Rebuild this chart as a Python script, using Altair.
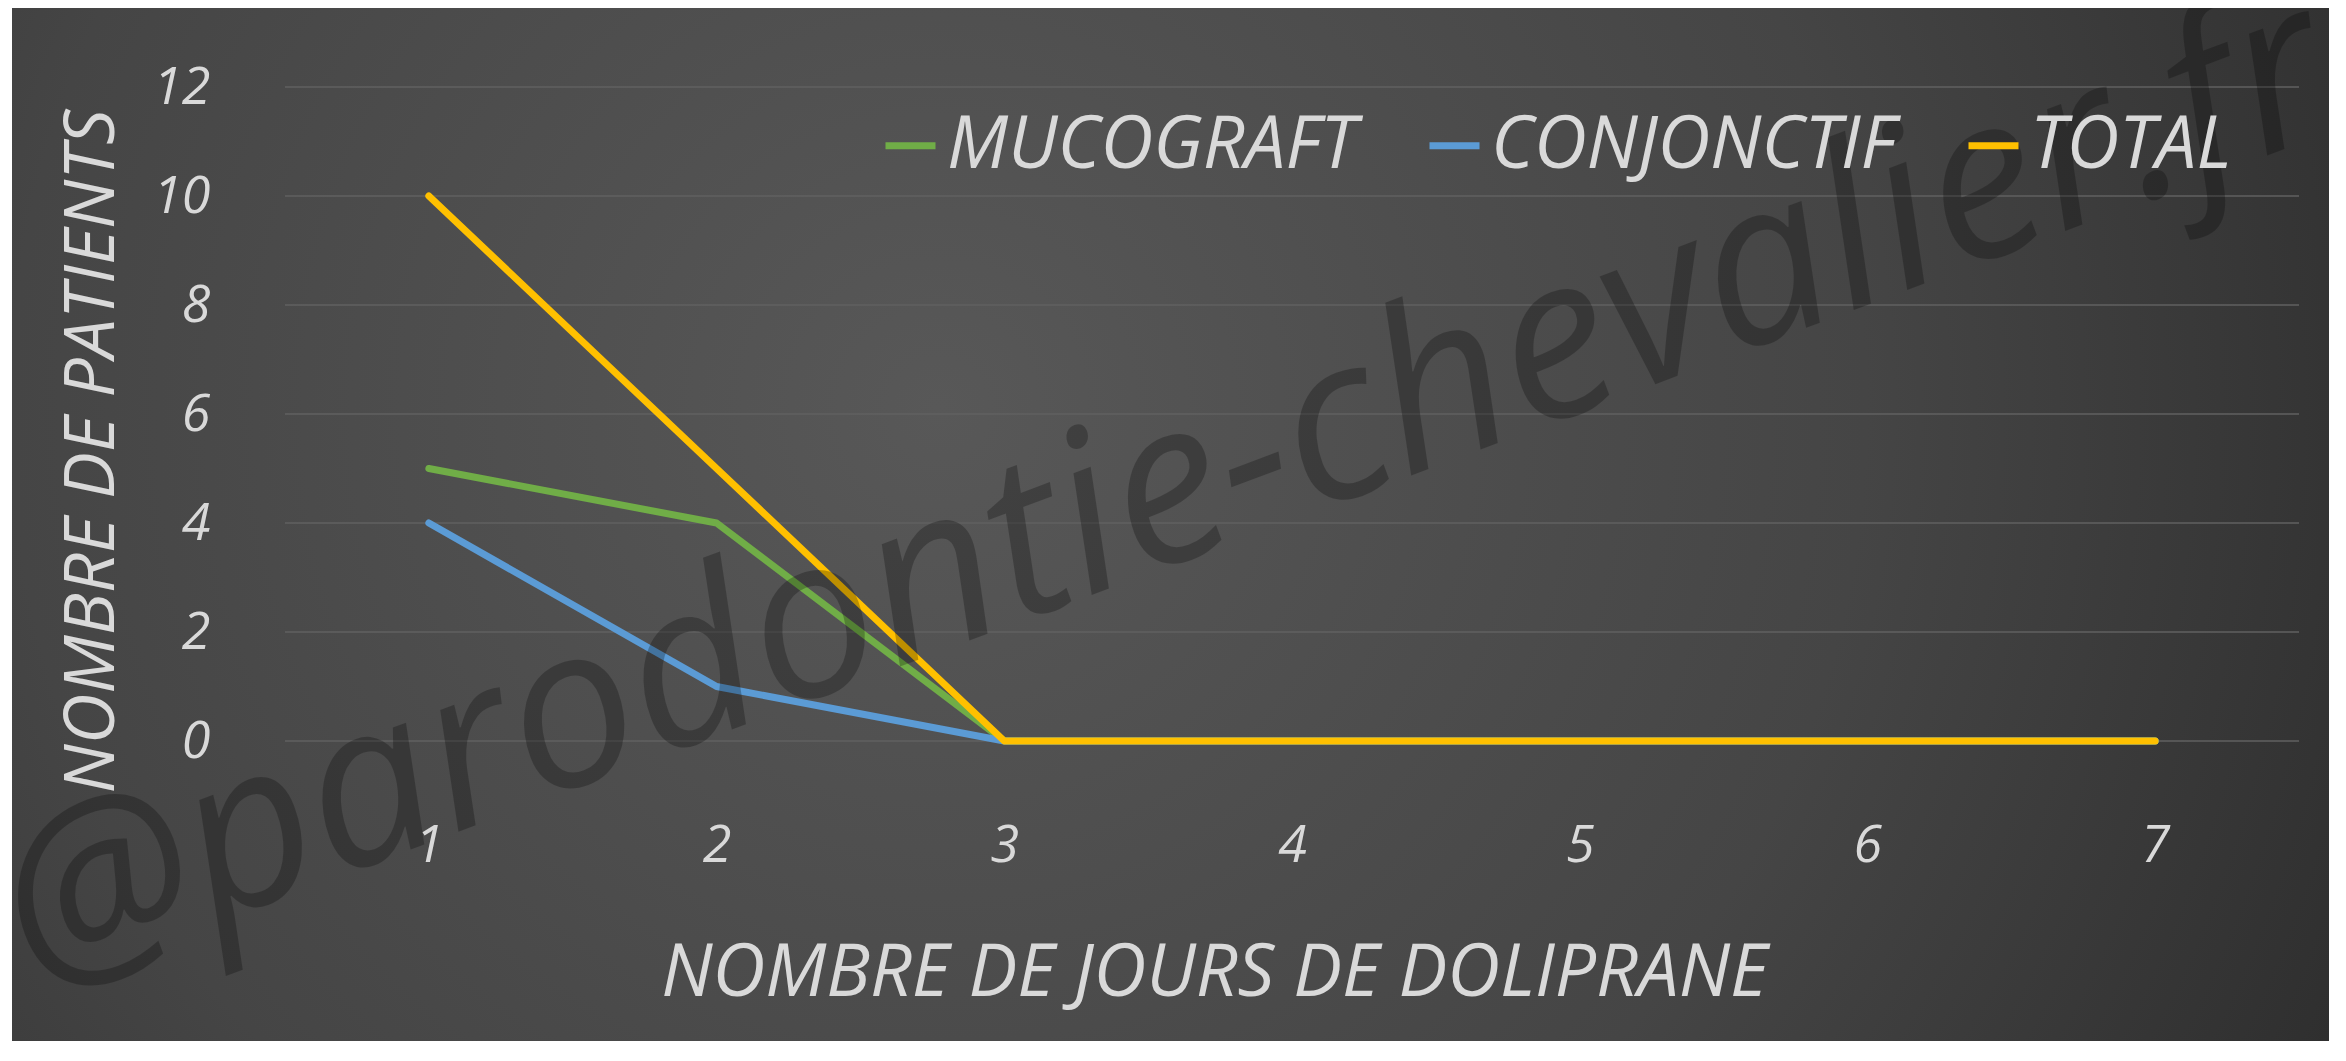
import altair as alt
import pandas as pd

# ---- data ----
jours = [1, 2, 3, 4, 5, 6, 7]
mucograft = [5, 4, 0, 0, 0, 0, 0]
conjonctif = [4, 1, 0, 0, 0, 0, 0]
total = [10, 5, 0, 0, 0, 0, 0]
series = ["MUCOGRAFT", "CONJONCTIF", "TOTAL"]
colors = ["#70AD47", "#5B9BD5", "#FFC000"]
y_ticks = [0, 2, 4, 6, 8, 10, 12]
watermark = "@parodontie-chevalier.fr"

rows = []
for s, vals in zip(series, [mucograft, conjonctif, total]):
    for j, v in zip(jours, vals):
        rows.append({"jour": j, "patients": v, "serie": s})
df = pd.DataFrame(rows)
grid_df = pd.DataFrame({"patients": y_ticks})

FONT = "Open Sans"
TXT = "#d9d9d9"

W, H = 2014, 654

bg = alt.Chart(pd.DataFrame({"k": [0]})).mark_rect(
    fill={
        "gradient": "radial",
        "x1": 0.4, "y1": 0.45, "r1": 0.0,
        "x2": 0.4, "y2": 0.45, "r2": 0.8,
        "stops": [
            {"offset": 0.0, "color": "#585858"},
            {"offset": 0.5, "color": "#454545"},
            {"offset": 1.0, "color": "#232323"},
        ],
    }
).encode(
    x=alt.value(-273), x2=alt.value(2044),
    y=alt.value(-79), y2=alt.value(H + 300),
)

y_scale = alt.Scale(domain=[0, 12], nice=False)

x_enc = alt.X(
    "jour:O",
    scale=alt.Scale(type="point", padding=0.5),
    axis=alt.Axis(
        title="NOMBRE DE JOURS DE DOLIPRANE", zindex=1,
        labelAngle=0, labelFont=FONT, labelFontSize=52, labelFontStyle="italic",
        labelColor=TXT, labelBaseline="middle", labelPadding=104,
        domain=False, ticks=False, tickSize=0, grid=False,
        titleFont=FONT, titleFontSize=73, titleFontStyle="italic", titleFontWeight="normal",
        titleColor=TXT, titleX=929, titleY=232, titleAlign="center", titleBaseline="middle",
    ),
)
y_enc = alt.Y(
    "patients:Q",
    scale=y_scale,
    axis=alt.Axis(
        title="NOMBRE DE PATIENTS", values=y_ticks, zindex=1,
        labelFont=FONT, labelFontSize=52, labelFontStyle="italic", labelColor=TXT,
        labelPadding=75, domain=False, ticks=False, tickSize=0, grid=False,
        titleFont=FONT, titleFontSize=70, titleFontStyle="italic", titleFontWeight="normal",
        titleColor=TXT, titleAngle=270, titleX=-193, titleY=364,
        titleAlign="center", titleBaseline="middle",
    ),
)
c_enc = alt.Color(
    "serie:N",
    scale=alt.Scale(domain=series, range=colors),
    legend=alt.Legend(
        title=None, orient="none", legendX=589, legendY=22, direction="horizontal",
        symbolType="stroke", symbolSize=2500, symbolStrokeWidth=7,
        labelFont=FONT, labelFontSize=73, labelFontStyle="italic", labelColor=TXT,
        labelLimit=1000, labelOffset=0, columnPadding=58,
    ),
)

grid = alt.Chart(grid_df).mark_rule(color="#606060", strokeWidth=1.5).encode(
    y=y_enc,
    x=alt.value(0), x2=alt.value(W),
)

lines = [
    alt.Chart(df).transform_filter(alt.datum.serie == s)
    .mark_line(strokeWidth=7, strokeCap="round", strokeJoin="round")
    .encode(x=x_enc, y=y_enc, color=c_enc)
    for s in series
]

wm = alt.Chart(pd.DataFrame({"t": [watermark]})).mark_text(
    font=FONT, fontSize=225, fontStyle="italic", angle=339.5, align="center", baseline="middle",
    color="#000000", opacity=0.25,
).encode(text="t:N", x=alt.value(880), y=alt.value(408))

chart = alt.layer(bg, grid, *lines, wm).properties(
    width=W, height=H,
    autosize=alt.AutoSizeParams(type="none"),
    padding={"left": 277, "top": 79, "right": 30, "bottom": 300},
    background="#ffffff",
).configure_view(stroke=None)

chart.save("out.html", embed_options={"renderer": "svg", "actions": False})
